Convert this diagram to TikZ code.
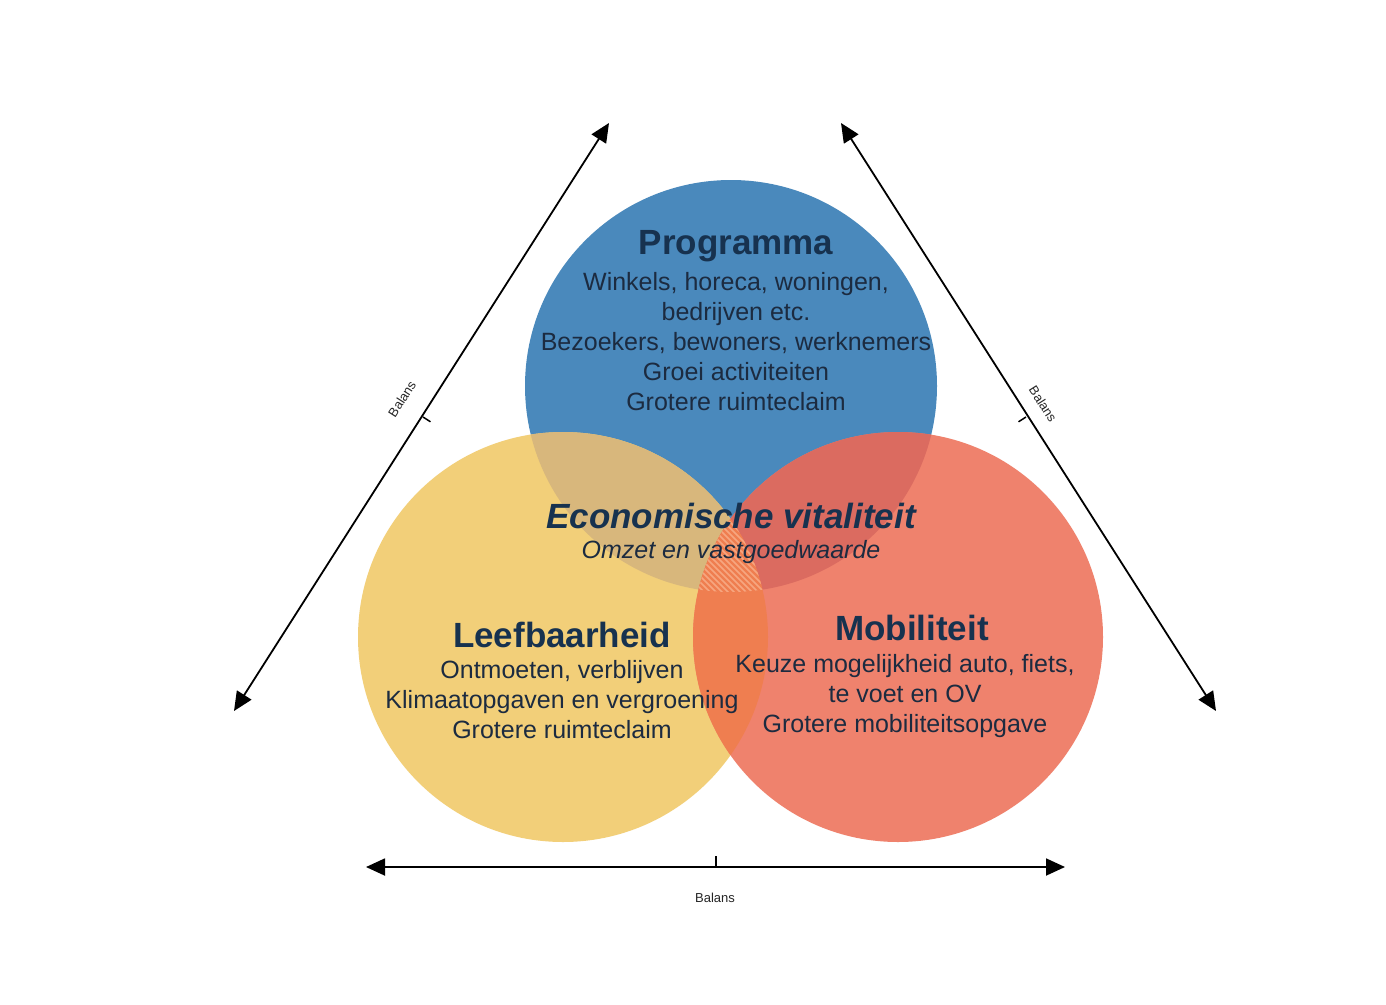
\documentclass[tikz,border=0pt]{standalone}
\usepackage{fontspec}
\setmainfont{Liberation Sans}
\usetikzlibrary{arrows.meta}
\definecolor{cblue}{HTML}{4A89BC}
\definecolor{cyellow}{HTML}{F2CF79}
\definecolor{cred}{HTML}{EF826D}
\definecolor{cby}{HTML}{D8B77C}
\definecolor{cbr}{HTML}{DB6B60}
\definecolor{cyr}{HTML}{EF7E50}
\definecolor{cstripe}{HTML}{F6A680}
\definecolor{chead}{HTML}{17324F}
\definecolor{cbody}{HTML}{1C2B40}
\tikzset{
  head/.style={font=\fontsize{35}{40}\selectfont\bfseries, text=chead, inner sep=0pt},
  body/.style={font=\fontsize{25}{30}\selectfont, text=cbody, align=center, inner sep=0pt},
  bal/.style={font=\fontsize{13}{15}\selectfont, text=black!85, inner sep=0pt},
  balarrow/.style={line width=1.8pt, {Triangle[length=19pt,width=17pt]}-{Triangle[length=19pt,width=17pt]}},
  ticks/.style={line width=1.5pt}
}
\begin{document}
\begin{tikzpicture}[x=1pt,y=-1pt]
\useasboundingbox[fill=white] (0,0) rectangle (1386,1004);
\coordinate (B) at (731,386);
\coordinate (Y) at (563,637);
\coordinate (R) at (898,637);
% circles
\fill[cblue] (B) circle (206pt);
\fill[cyellow] (Y) circle (205pt);
\fill[cred] (R) circle (205pt);
\begin{scope}
  \clip (B) circle (206pt);
  \fill[cby] (Y) circle (205pt);
  \fill[cbr] (R) circle (205pt);
\end{scope}
\begin{scope}
  \clip (Y) circle (205pt);
  \fill[cyr] (R) circle (205pt);
\end{scope}
\begin{scope}
  \clip (B) circle (206pt);
  \clip (Y) circle (205pt);
  \clip (R) circle (205pt);
  \fill[cyr] (650,500) rectangle (820,600);
  \foreach \i in {-160,-154,...,100}
    \draw[cstripe, line width=1.6pt] (700+\i,500) -- ++(110,110);
\end{scope}
% arrows
\coordinate (la) at (234,711);
\coordinate (lb) at (609,123);
\coordinate (ra) at (841,123);
\coordinate (rb) at (1216,711);
\coordinate (ba) at (366,867);
\coordinate (bb) at (1065,867);
\draw[balarrow] (la) -- (lb);
\draw[balarrow] (ra) -- (rb);
\draw[balarrow] (ba) -- (bb);
% ticks
\coordinate (lt) at (423,417);
\coordinate (rt) at (1026,417);
\coordinate (bt) at (716,867);
\draw[ticks] (lt) -- ++(7.5,4.8);
\draw[ticks] (rt) -- ++(-7.5,4.8);
\draw[ticks] (bt) -- ++(0,-11);
\node[bal, rotate=57.5] (lbal) at (402,399) {Balans};
\node[bal, rotate=-57.5] (rbal) at (1043,404) {Balans};
\node[bal] (bbal) at (715,898) {Balans};
% texts
\node[head] (prog) at (736,246) {Programma};
\node[body, anchor=north] (progt) at (736,272) {Winkels, horeca, woningen,\\bedrijven etc.\\Bezoekers, bewoners, werknemers\\Groei activiteiten\\Grotere ruimteclaim};
\node[head, font=\fontsize{35}{40}\selectfont\bfseries\itshape] (eco) at (731,516) {Economische vitaliteit};
\node[body, font=\fontsize{25}{30}\selectfont\itshape] (ecot) at (731,552) {Omzet en vastgoedwaarde};
\node[head] (leef) at (562,635) {Leefbaarheid};
\node[body, anchor=north] (leeft) at (562,660) {Ontmoeten, verblijven\\Klimaatopgaven en vergroening\\Grotere ruimteclaim};
\node[head] (mob) at (912,628) {Mobiliteit};
\node[body, anchor=north] (mobt) at (905,654) {Keuze mogelijkheid auto, fiets,\\te voet en OV\\Grotere mobiliteitsopgave};
\end{tikzpicture}
\end{document}
